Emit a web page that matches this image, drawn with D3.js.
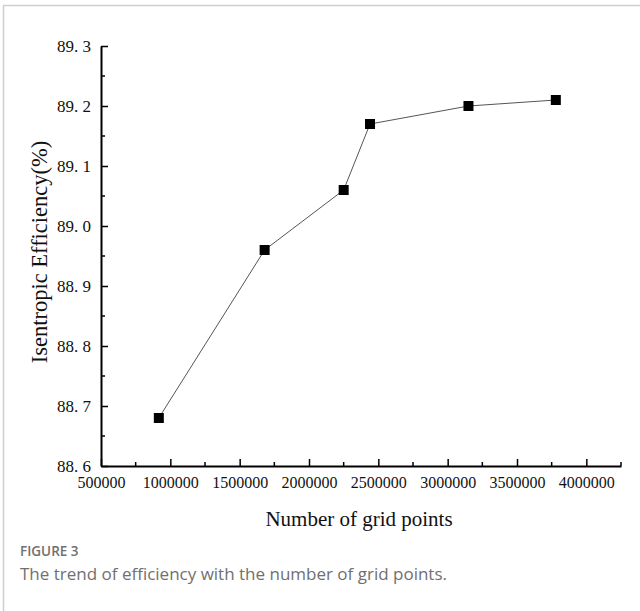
<!DOCTYPE html>
<html>
<head>
<meta charset="utf-8">
<script src="https://cdn.jsdelivr.net/npm/d3@7"></script>
<style>
  html, body { margin: 0; padding: 0; background: #fff; }
  svg { display: block; }
</style>
</head>
<body>
<svg id="chart" width="640" height="611"></svg>
<script>
// Grid-independence study: isentropic efficiency vs. mesh size
const gridPoints = [917000, 1680000, 2250000, 2440000, 3150000, 3780000];
const efficiency = [88.68, 88.96, 89.06, 89.17, 89.20, 89.21];
const xTicks = [500000, 1000000, 1500000, 2000000, 2500000, 3000000, 3500000, 4000000];
const yTicks = [88.6, 88.7, 88.8, 88.9, 89.0, 89.1, 89.2, 89.3];
const xTitle = "Number of grid points";
const yTitle = "Isentropic Efficiency(%)";
const figLabel = "FIGURE 3";
const figCaption = "The trend of efficiency with the number of grid points.";

const svg = d3.select("#chart");
const serif = "'Liberation Serif', 'Times New Roman', serif";
const sans = "'Open Sans', 'Noto Sans', sans-serif";

// panel frame (top and left rules)
svg.append("path")
  .attr("d", "M3.5,611 V5.5 H640")
  .attr("fill", "none")
  .attr("stroke", "#cfcfcf")
  .attr("stroke-width", 1.5);

const plotL = 101, plotR = 621, plotT = 46, plotB = 466;

const x = d3.scaleLinear().domain([500000, 4250000]).range([plotL, plotR]);
const y = d3.scaleLinear().domain([88.6, 89.3]).range([plotB, plotT]);

// minor ticks
const xMinor = d3.range(750000, 4250001, 500000);
const yMinor = d3.range(88.65, 89.3, 0.1);

const g = svg.append("g");

// x axis with inward ticks
const xAxis = g.append("g").attr("transform", `translate(0,${plotB})`);
xAxis.call(d3.axisBottom(x).tickValues(xTicks).tickSize(-7).tickPadding(11)
  .tickFormat(d3.format("d")).tickSizeOuter(0));
xAxis.selectAll(".minor").data(xMinor).enter().append("line")
  .attr("class", "minor")
  .attr("x1", d => x(d)).attr("x2", d => x(d))
  .attr("y1", 0).attr("y2", -4)
  .attr("stroke", "#000").attr("stroke-width", 1.5);

// y axis with inward ticks
const yAxis = g.append("g").attr("transform", `translate(${plotL},0)`);
yAxis.call(d3.axisLeft(y).tickValues(yTicks).tickSize(-7).tickPadding(10)
  .tickFormat(d => d3.format(".1f")(d).replace(".", ". ")).tickSizeOuter(0));
yAxis.selectAll(".minor").data(yMinor).enter().append("line")
  .attr("class", "minor")
  .attr("y1", d => y(d)).attr("y2", d => y(d))
  .attr("x1", 0).attr("x2", 4)
  .attr("stroke", "#000").attr("stroke-width", 1.5);

[xAxis, yAxis].forEach(a => {
  a.select(".domain").attr("stroke", "#000").attr("stroke-width", 2);
  a.selectAll(".tick line").attr("stroke", "#000").attr("stroke-width", 1.5);
  a.selectAll(".tick text")
    .attr("fill", "#111")
    .style("font-family", serif)
    .style("font-size", "16px");
});
yAxis.selectAll(".tick text").style("font-size", "17px");

// connecting line
const pts = gridPoints.map((v, i) => [v, efficiency[i]]);
g.append("path")
  .datum(pts)
  .attr("fill", "none")
  .attr("stroke", "#555")
  .attr("stroke-width", 1)
  .attr("d", d3.line().x(d => x(d[0])).y(d => y(d[1])));

// square markers
const s = 10;
g.selectAll(".pt").data(pts).enter().append("rect")
  .attr("class", "pt")
  .attr("x", d => x(d[0]) - s / 2)
  .attr("y", d => y(d[1]) - s / 2)
  .attr("width", s).attr("height", s)
  .attr("fill", "#000");

// axis titles
svg.append("text")
  .attr("x", (plotL + plotR) / 2 - 2)
  .attr("y", 526)
  .attr("text-anchor", "middle")
  .style("font-family", serif)
  .style("font-size", "21px")
  .attr("fill", "#111")
  .text(xTitle);

svg.append("text")
  .attr("transform", `translate(47,252) rotate(-90)`)
  .attr("text-anchor", "middle")
  .style("font-family", serif)
  .style("font-size", "22.5px")
  .attr("fill", "#111")
  .text(yTitle);

// caption
svg.append("text")
  .attr("x", 20).attr("y", 556)
  .style("font-family", sans)
  .style("font-size", "13.5px")
  .style("font-weight", 600)
  .attr("fill", "#707070")
  .text(figLabel);

svg.append("text")
  .attr("x", 20).attr("y", 580)
  .style("font-family", sans)
  .style("font-size", "17px")
  .attr("fill", "#707070")
  .text(figCaption);
</script>
</body>
</html>
